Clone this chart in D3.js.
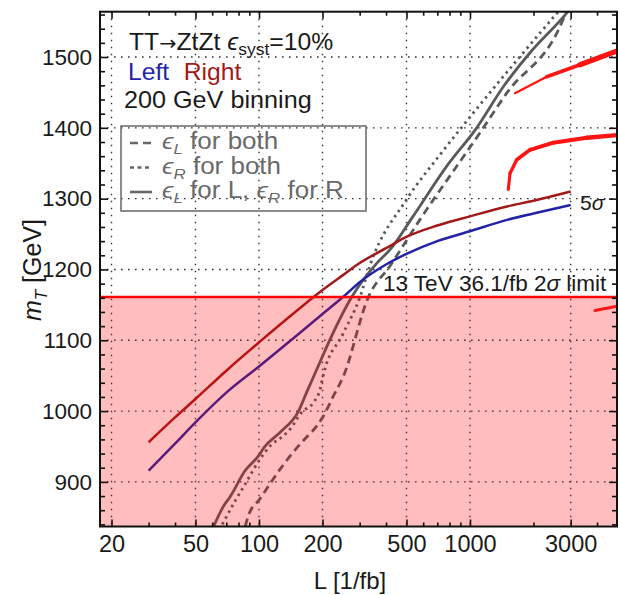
<!DOCTYPE html>
<html>
<head>
<meta charset="utf-8">
<script src="https://cdn.jsdelivr.net/npm/d3@7"></script>
<style>
  body { margin: 0; background: #fff; }
  svg text { font-family: "Liberation Sans", Arial, sans-serif; fill: #1a1a1a; }
</style>
</head>
<body>
<svg id="chart" width="620" height="595"></svg>
<script>
// luminosity grid (1/fb) for the L / R 5 sigma curves
const lumi = [30, 40, 50, 70, 100, 150, 200, 250, 300, 400, 500, 700, 1000, 1500, 2000, 3000];
const leftMass = [916, 954, 984, 1026, 1063, 1106, 1137, 1161, 1182, 1207, 1222, 1240, 1254, 1270, 1279, 1291];
const rightMass = [956, 991, 1017, 1057, 1097, 1141, 1171, 1192, 1209, 1230, 1246, 1262, 1275, 1289, 1297, 1310];

// 2 sigma curves (gray)
const mixedLumi = [60.7, 68, 73, 86, 99, 106, 126, 154, 168, 188, 217, 275, 362, 418, 537, 776, 1076, 1438, 1925, 2871, 2980];
const mixedMass = [836, 866, 879, 916, 936, 949, 970, 1000, 1026, 1059, 1101, 1161, 1209, 1228, 1275, 1346, 1400, 1458, 1506, 1562, 1568];
const epsLLumi = [86, 89, 101, 126, 151, 168, 188, 202, 225, 251, 330, 420, 578, 1115, 1493, 2670, 2900];
const epsLMass = [837, 852, 876, 918, 948, 963, 979, 993, 1021, 1049, 1161, 1206, 1270, 1393, 1449, 1543, 1568];
const epsRLumi = [67, 77, 86, 101, 115, 128, 140, 159, 181, 195, 201, 250, 301, 335, 501, 721, 1037, 2670];
const epsRMass = [840, 873, 897, 932, 953, 963, 974, 998, 1012, 1031, 1049, 1109, 1161, 1205, 1299, 1362, 1421, 1567];

// red marker strokes drawn over the plot
const strokeALumi = [1634, 2310, 3322, 5140];
const strokeAMass = [1449, 1472, 1489, 1510];
const strokeBLumi = [1519, 1548, 1665, 1925, 2482, 3573, 5140];
const strokeBMass = [1313, 1336, 1355, 1369, 1379, 1386, 1390];
const strokeCLumi = [3913, 5140];
const strokeCMass = [1142, 1149];

const limit2sigma = 1161;

const xMajor = [20, 50, 100, 200, 500, 1000, 3000];
const xMinor = [30, 40, 60, 70, 80, 90, 300, 400, 600, 700, 800, 900, 2000, 4000];
const yMajor = [900, 1000, 1100, 1200, 1300, 1400, 1500];
const yMinor = d3.range(840, 1564, 20).filter(v => v % 100 !== 0);

const svg = d3.select("#chart");
const x = d3.scaleLog().domain([17.64, 4974]).range([100, 617]);
const y = d3.scaleLinear().domain([837, 1564]).range([526.5, 11.7]);
const [x0, x1] = x.range();
const [y0, y1] = y.range();

svg.append("defs").append("clipPath").attr("id", "plot")
  .append("rect").attr("x", x0).attr("y", y1).attr("width", x1 - x0).attr("height", y0 - y1);

const plot = svg.append("g").attr("clip-path", "url(#plot)");

// dotted grid
plot.selectAll("line.vgrid").data(xMajor).join("line")
  .attr("x1", d => x(d)).attr("x2", d => x(d)).attr("y1", y1).attr("y2", y0)
  .attr("stroke", "#333").attr("stroke-width", 1.4).attr("stroke-dasharray", "1.6,5.4");
plot.selectAll("line.hgrid").data(yMajor).join("line")
  .attr("y1", d => y(d)).attr("y2", d => y(d)).attr("x1", x0).attr("x2", x1)
  .attr("stroke", "#333").attr("stroke-width", 1.4).attr("stroke-dasharray", "1.6,5.4");

const line = d3.line().x(d => x(d[0])).y(d => y(d[1])).curve(d3.curveMonotoneX);

const grayCurves = [
  { pts: d3.zip(epsLLumi, epsLMass), dash: "8,5" },
  { pts: d3.zip(epsRLumi, epsRMass), dash: "2.5,4" },
  { pts: d3.zip(mixedLumi, mixedMass), dash: null }
];
grayCurves.forEach(c => {
  plot.append("path").attr("d", line(c.pts))
    .attr("fill", "none").attr("stroke", "#5a5a5a").attr("stroke-width", 2.8)
    .attr("stroke-dasharray", c.dash);
});

plot.append("path").attr("d", line(d3.zip(lumi, leftMass)))
  .attr("fill", "none").attr("stroke", "#2323a6").attr("stroke-width", 2.5);
plot.append("path").attr("d", line(d3.zip(lumi, rightMass)))
  .attr("fill", "none").attr("stroke", "#a31a1a").attr("stroke-width", 2.5);

// excluded region overlay (translucent, tints the curves below it)
plot.append("rect")
  .attr("x", x0).attr("y", y(limit2sigma)).attr("width", x1 - x0).attr("height", y0 - y(limit2sigma))
  .attr("fill", "#ff0000").attr("opacity", 0.26);
plot.append("line")
  .attr("x1", x0).attr("x2", x1).attr("y1", y(limit2sigma)).attr("y2", y(limit2sigma))
  .attr("stroke", "#ff0000").attr("stroke-width", 2.6);

// tapered red marker strokes
function brush(ls, ms, w0, w1) {
  const pts = d3.zip(ls, ms).map(d => [x(d[0]), y(d[1])]);
  const n = pts.length - 1;
  for (let i = 0; i < n; i++) {
    plot.append("line")
      .attr("x1", pts[i][0]).attr("y1", pts[i][1])
      .attr("x2", pts[i + 1][0]).attr("y2", pts[i + 1][1])
      .attr("stroke", "#ff1414").attr("stroke-linecap", "round")
      .attr("stroke-width", w0 + (w1 - w0) * (i + 0.5) / n);
  }
}
brush(strokeALumi, strokeAMass, 1.5, 6);
brush(strokeBLumi, strokeBMass, 3, 4.5);
brush(strokeCLumi, strokeCMass, 1.5, 4.5);

// axes with inward ticks on all sides
function styleAxis(size) {
  return g => {
    g.select(".domain").remove();
    g.selectAll("line").attr("stroke", "#111").attr("stroke-width", 1.6);
    g.selectAll("text").attr("font-size", size).attr("fill", "#1a1a1a")
      .attr("font-family", "Liberation Sans, Arial, sans-serif");
  };
}
svg.append("g").attr("transform", `translate(0,${y0})`)
  .call(d3.axisBottom(x).tickValues(xMajor).tickFormat(d3.format("d")).tickSizeInner(-7).tickSizeOuter(0).tickPadding(9))
  .call(styleAxis(23.5));
svg.append("g").attr("transform", `translate(0,${y0})`)
  .call(d3.axisBottom(x).tickValues(xMinor).tickFormat("").tickSizeInner(-4).tickSizeOuter(0))
  .call(styleAxis(0));
svg.append("g").attr("transform", `translate(0,${y1})`)
  .call(d3.axisTop(x).tickValues(xMajor).tickFormat("").tickSizeInner(-7).tickSizeOuter(0))
  .call(styleAxis(0));
svg.append("g").attr("transform", `translate(0,${y1})`)
  .call(d3.axisTop(x).tickValues(xMinor).tickFormat("").tickSizeInner(-4).tickSizeOuter(0))
  .call(styleAxis(0));
svg.append("g").attr("transform", `translate(${x0},0)`)
  .call(d3.axisLeft(y).tickValues(yMajor).tickFormat(d3.format("d")).tickSizeInner(-8).tickSizeOuter(0).tickPadding(8))
  .call(styleAxis(22.5));
svg.append("g").attr("transform", `translate(${x0},0)`)
  .call(d3.axisLeft(y).tickValues(yMinor).tickFormat("").tickSizeInner(-5).tickSizeOuter(0))
  .call(styleAxis(0));
svg.append("g").attr("transform", `translate(${x1},0)`)
  .call(d3.axisRight(y).tickValues(yMajor).tickFormat("").tickSizeInner(-8).tickSizeOuter(0))
  .call(styleAxis(0));
svg.append("g").attr("transform", `translate(${x1},0)`)
  .call(d3.axisRight(y).tickValues(yMinor).tickFormat("").tickSizeInner(-5).tickSizeOuter(0))
  .call(styleAxis(0));

svg.append("rect").attr("x", x0).attr("y", y1).attr("width", x1 - x0).attr("height", y0 - y1)
  .attr("fill", "none").attr("stroke", "#111").attr("stroke-width", 2);

// axis titles
svg.append("text").attr("x", 350).attr("y", 589).attr("text-anchor", "middle")
  .attr("font-size", 24).text("L [1/fb]");
const yl = svg.append("text").attr("transform", "translate(41,270) rotate(-90)")
  .attr("text-anchor", "middle").attr("font-size", 25);
yl.append("tspan").attr("font-style", "italic").text("m");
yl.append("tspan").attr("font-style", "italic").attr("font-size", 17).attr("dy", 6).text("T");
yl.append("tspan").attr("dy", -6).text(" [GeV]");

// annotations (slightly widened glyphs, as in the source figure)
function label(px, py, size, sx) {
  return svg.append("text").attr("transform", `translate(${px},${py}) scale(${sx},1)`)
    .attr("font-size", size);
}
const title = label(129, 50, 24, 1.03);
title.append("tspan").text("TT");
title.append("tspan").attr("font-family", "DejaVu Sans").attr("font-size", 20).text("\u2192");
title.append("tspan").text("ZtZt ");
title.append("tspan").attr("font-style", "italic").text("\u03f5");
title.append("tspan").attr("font-size", 17).attr("dy", 5).text("syst");
title.append("tspan").attr("dy", -5).text("=10%");

const lr = label(128, 80, 24, 1.03);
lr.append("tspan").style("fill", "#2323a6").text("Left");
lr.append("tspan").attr("dx", 14).style("fill", "#a31a1a").text("Right");

label(124, 108, 24, 1.05).text("200 GeV binning");

const s5 = label(580, 210, 21, 1);
s5.append("tspan").text("5");
s5.append("tspan").attr("font-style", "italic").text("\u03c3");

const lim = label(383, 291, 22.5, 1);
lim.append("tspan").text("13 TeV 36.1/fb 2");
lim.append("tspan").attr("font-style", "italic").text("\u03c3");
lim.append("tspan").text(" limit");

// legend
const legend = svg.append("g");
legend.append("rect").attr("x", 121).attr("y", 126).attr("width", 245).attr("height", 85)
  .attr("fill", "none").attr("stroke", "#707070").attr("stroke-width", 1.6);
const legendRows = [
  { sub: "L", rest: " for both", dash: "8,5", after: "" },
  { sub: "R", rest: " for both", dash: "4,3.5", after: "" },
  { sub: "L", rest: " for L, ", dash: null, after: "R" }
];
legendRows.forEach((r, i) => {
  const by = 149 + i * 24.5;
  legend.append("line").attr("x1", 130).attr("x2", 152).attr("y1", by - 6).attr("y2", by - 6)
    .attr("stroke", "#666").attr("stroke-width", 2.6).attr("stroke-dasharray", r.dash);
  const t = label(162, by, 23, 1.13).style("fill", "#6a6a6a");
  t.append("tspan").attr("font-style", "italic").text("\u03f5");
  t.append("tspan").attr("font-style", "italic").attr("font-size", 15).attr("dy", 5).text(r.sub);
  t.append("tspan").attr("dy", -5).text(r.rest);
  if (r.after) {
    t.append("tspan").attr("font-style", "italic").text("\u03f5");
    t.append("tspan").attr("font-style", "italic").attr("font-size", 15).attr("dy", 5).text(r.after);
    t.append("tspan").attr("dy", -5).text(" for R");
  }
});
</script>
</body>
</html>
